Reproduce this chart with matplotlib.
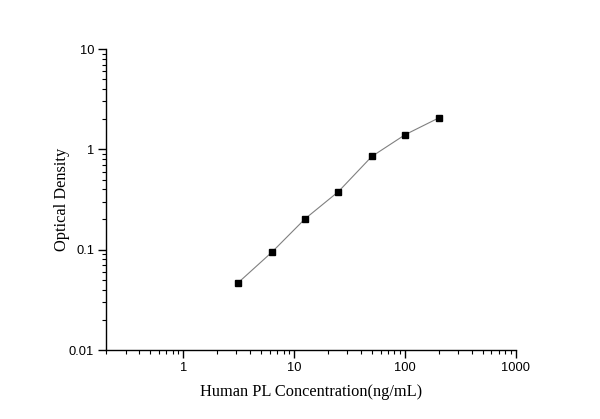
import numpy as np
import matplotlib
matplotlib.use("Agg")
import matplotlib.pyplot as plt
from matplotlib.ticker import LogLocator, FixedLocator, FixedFormatter, NullFormatter

plt.rcParams["font.family"] = ["Liberation Sans", "DejaVu Sans"]

# standard curve
conc = [3.125, 6.25, 12.5, 25, 50, 100, 200]
od = [0.047, 0.094, 0.203, 0.379, 0.849, 1.40, 2.05]

xticks = [1, 10, 100, 1000]
xtick_labels = ["1", "10", "100", "1000"]
yticks = [0.01, 0.1, 1, 10]
ytick_labels = ["0.01", "0.1", "1", "10"]

fig = plt.figure(figsize=(6, 4.19), dpi=100)
ax = fig.add_axes([106 / 600, 1 - 350 / 419, (516 - 106) / 600, (350 - 49) / 419])

ax.plot(conc, od, color="#808080", lw=0.8, zorder=2)
ax.plot(conc, od, ls="none", marker="s", ms=4.5, color="black", zorder=3)

ax.set_xscale("log")
ax.set_yscale("log")
ax.set_xlim(0.2, 1000)
ax.set_ylim(0.01, 10)

ax.xaxis.set_major_locator(FixedLocator(xticks))
ax.xaxis.set_major_formatter(FixedFormatter(xtick_labels))
ax.yaxis.set_major_locator(FixedLocator(yticks))
ax.yaxis.set_major_formatter(FixedFormatter(ytick_labels))
ax.xaxis.set_minor_locator(LogLocator(base=10, subs=np.arange(2, 10), numticks=20))
ax.yaxis.set_minor_locator(LogLocator(base=10, subs=np.arange(2, 10), numticks=20))
ax.xaxis.set_minor_formatter(NullFormatter())
ax.yaxis.set_minor_formatter(NullFormatter())

for s in ["top", "right"]:
    ax.spines[s].set_visible(False)
for s in ["left", "bottom"]:
    ax.spines[s].set_linewidth(1.0)

ax.tick_params(which="major", direction="out", length=5.5, width=1.0,
               labelsize=9.3, pad=3)
ax.tick_params(which="minor", direction="out", length=3, width=0.8)

ax.set_xlabel("Human PL Concentration(ng/mL)", family="Liberation Serif",
              fontsize=11.8, labelpad=7)
ax.set_ylabel("Optical Density", family="Liberation Serif", fontsize=11.8)
ax.yaxis.set_label_coords(-0.088, 0.5)

fig.savefig("out.png", dpi=100)
